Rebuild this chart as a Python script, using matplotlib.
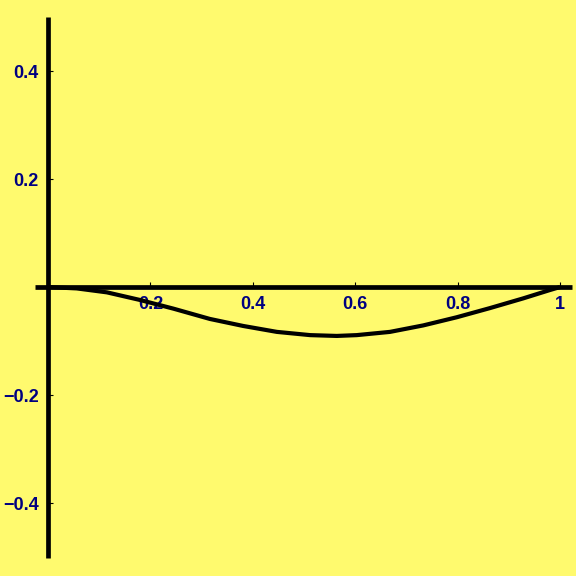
import matplotlib
matplotlib.use("Agg")
import matplotlib.pyplot as plt

# curve
xs = [0.0, 0.056, 0.115, 0.18, 0.245, 0.316, 0.381, 0.447, 0.512, 0.564,
      0.603, 0.668, 0.733, 0.798, 0.863, 0.928, 0.98, 1.0]
ys = [0.0, -0.0025, -0.0098, -0.024, -0.040, -0.059, -0.072, -0.083, -0.089,
      -0.0905, -0.089, -0.083, -0.071, -0.056, -0.039, -0.021, -0.0056, 0.0]

x_ticks = [0.2, 0.4, 0.6, 0.8, 1.0]
x_labels = ["0.2", "0.4", "0.6", "0.8", "1"]
y_ticks = [-0.4, -0.2, 0.2, 0.4]
y_labels = ["\u22120.4", "\u22120.2", "0.2", "0.4"]

bg = "#fffa6e"
navy = "#000080"

fig = plt.figure(figsize=(5.76, 5.76), dpi=100, facecolor=bg)
ax = fig.add_axes([0, 0, 1, 1], facecolor=bg)

ax.plot(xs, ys, color="black", lw=3.0, solid_capstyle="butt", zorder=3)

ax.set_xlim(-0.09375, 1.03125)
ax.set_ylim(-0.535, 0.5315)

ax.spines["top"].set_visible(False)
ax.spines["right"].set_visible(False)
for side in ("left", "bottom"):
    ax.spines[side].set_position(("data", 0))
    ax.spines[side].set_linewidth(3.4)
    ax.spines[side].set_capstyle("butt")
ax.spines["left"].set_bounds(-0.501, 0.5)
ax.spines["bottom"].set_bounds(-0.025, 1.023)

ax.set_xticks(x_ticks)
ax.set_xticklabels(x_labels)
ax.set_yticks(y_ticks)
ax.set_yticklabels(y_labels)
ax.tick_params(direction="in", length=3.6, width=0.8, color="black",
               labelcolor=navy, pad=6.5)
for lab in ax.get_xticklabels() + ax.get_yticklabels():
    lab.set_fontfamily("Liberation Sans")
    lab.set_fontweight("bold")
    lab.set_fontsize(13)

fig.savefig("out.png", dpi=100, facecolor=bg)
